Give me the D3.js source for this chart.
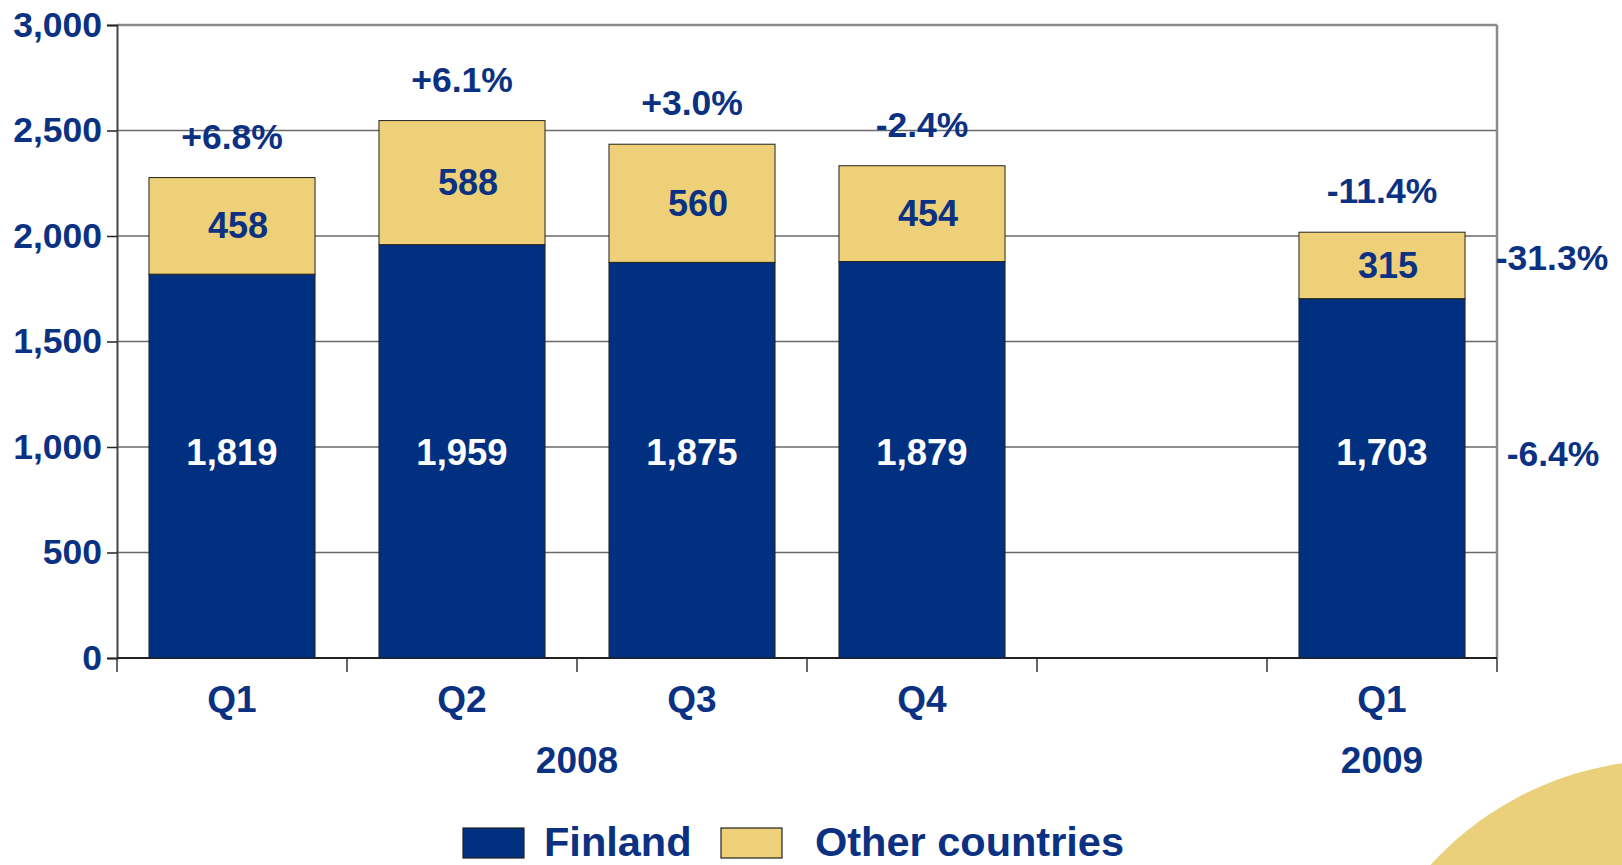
<!DOCTYPE html>
<html><head><meta charset="utf-8">
<script src="https://cdn.jsdelivr.net/npm/d3@7"></script>
<style>
html,body{margin:0;padding:0;background:#fff;}
svg{display:block;font-family:"Liberation Sans",Arial,sans-serif;font-weight:bold;}
</style></head>
<body>
<svg id="chart" width="1622" height="865"></svg>
<script>
// ---- data ----
const categories = ["2008 Q1","2008 Q2","2008 Q3","2008 Q4","gap","2009 Q1"];
const quarterLabels = ["Q1","Q2","Q3","Q4","","Q1"];
const years = [{label:"2008", from:"2008 Q1", to:"gap"},{label:"2009", from:"2009 Q1", to:"2009 Q1"}];
const finland = [1819,1959,1875,1879,null,1703];
const otherCountries = [458,588,560,454,null,315];
const growthTotal = ["+6.8%","+6.1%","+3.0%","-2.4%","","-11.4%"];
const yoyOther = "-31.3%";
const yoyFinland = "-6.4%";
const yTicks = [0,500,1000,1500,2000,2500,3000];
const seriesNames = ["Finland","Other countries"];

// ---- style ----
const BLUE = "#00307f", GOLD = "#edd077", TEXT = "#0a3182";
const svg = d3.select("#chart");
const m = {left:117, right:1497, top:25, bottom:658};

// decoration
svg.append("circle").attr("cx",1668).attr("cy",1081).attr("r",321).attr("fill","#ead07a");

const x = d3.scaleBand().domain(categories).range([m.left,m.right]).padding(0);
const y = d3.scaleLinear().domain([0,3000]).range([m.bottom,m.top]);
const barW = x.bandwidth()*0.722;
const bx = c => x(c) + (x.bandwidth()-barW)/2;
const finLabelY = y(975);

// gridlines
svg.append("g").selectAll("line").data(yTicks.filter(t=>t>0 && t<3000)).join("line")
  .attr("x1",m.left).attr("x2",m.right).attr("y1",d=>y(d)).attr("y2",d=>y(d))
  .attr("stroke","#6a6a6a").attr("stroke-width",1.3);
// plot border top/right
svg.append("line").attr("x1",m.left).attr("x2",m.right).attr("y1",y(3000)).attr("y2",y(3000))
  .attr("stroke","#8a8a8a").attr("stroke-width",2.5);
svg.append("line").attr("x1",m.right).attr("x2",m.right).attr("y1",y(3000)).attr("y2",m.bottom)
  .attr("stroke","#8a8a8a").attr("stroke-width",2.5);

// y axis
const yAxis = d3.axisLeft(y).tickValues(yTicks).tickFormat(d3.format(",")).tickSize(10).tickPadding(5);
const gy = svg.append("g").attr("transform",`translate(${m.left},0)`).call(yAxis);
gy.select(".domain").attr("stroke","#444").attr("stroke-width",2);
gy.selectAll(".tick line").attr("stroke","#222").attr("stroke-width",1.5);
gy.selectAll(".tick text").attr("fill",TEXT).attr("font-size",35.5).attr("font-family","Liberation Sans, Arial, sans-serif").attr("font-weight","bold");

// x axis (boundary ticks)
const bounds = categories.map(c=>x(c)).concat([m.right]);
svg.append("line").attr("x1",m.left).attr("x2",m.right).attr("y1",m.bottom).attr("y2",m.bottom)
  .attr("stroke","#222").attr("stroke-width",2);
svg.append("g").selectAll("line").data(bounds).join("line")
  .attr("x1",d=>d).attr("x2",d=>d).attr("y1",m.bottom).attr("y2",m.bottom+14)
  .attr("stroke","#333").attr("stroke-width",1.5);

const rows = categories.map((c,i)=>({c, f:finland[i], o:otherCountries[i], g:growthTotal[i], q:quarterLabels[i]}))
  .filter(d=>d.f!=null);

// bars
svg.append("g").selectAll("rect").data(rows).join("rect")
  .attr("x",d=>bx(d.c)).attr("width",barW)
  .attr("y",d=>y(d.f)).attr("height",d=>y(0)-y(d.f))
  .attr("fill",BLUE).attr("stroke","#222").attr("stroke-width",1);
svg.append("g").selectAll("rect").data(rows).join("rect")
  .attr("x",d=>bx(d.c)).attr("width",barW)
  .attr("y",d=>y(d.f+d.o)).attr("height",d=>y(d.f)-y(d.f+d.o))
  .attr("fill",GOLD).attr("stroke","#222").attr("stroke-width",1);

const fmt = d3.format(",");
// value labels
svg.append("g").selectAll("text").data(rows).join("text")
  .attr("x",d=>x(d.c)+x.bandwidth()/2).attr("y",finLabelY)
  .attr("text-anchor","middle").attr("dominant-baseline","central")
  .attr("fill","#fff").attr("font-size",36.5).text(d=>fmt(d.f));
svg.append("g").selectAll("text").data(rows).join("text")
  .attr("x",d=>x(d.c)+x.bandwidth()/2+6).attr("y",d=>y(d.f+d.o/2))
  .attr("text-anchor","middle").attr("dominant-baseline","central")
  .attr("fill",TEXT).attr("font-size",36).text(d=>fmt(d.o));
// growth labels
svg.append("g").selectAll("text").data(rows).join("text")
  .attr("x",d=>x(d.c)+x.bandwidth()/2).attr("y",d=>y(d.f+d.o)-41)
  .attr("text-anchor","middle").attr("dominant-baseline","central")
  .attr("fill",TEXT).attr("font-size",35.5).text(d=>d.g);
// right side yoy labels
const last = rows[rows.length-1];
svg.append("text").attr("x",m.right+55).attr("y",y(last.f+last.o/2)-7)
  .attr("text-anchor","middle").attr("dominant-baseline","central")
  .attr("fill",TEXT).attr("font-size",35.5).text(yoyOther);
svg.append("text").attr("x",m.right+56).attr("y",finLabelY+2)
  .attr("text-anchor","middle").attr("dominant-baseline","central")
  .attr("fill",TEXT).attr("font-size",35.5).text(yoyFinland);

// category labels
svg.append("g").selectAll("text").data(rows).join("text")
  .attr("x",d=>x(d.c)+x.bandwidth()/2).attr("y",712)
  .attr("text-anchor","middle").attr("fill",TEXT).attr("font-size",37).text(d=>d.q);
svg.append("g").selectAll("text").data(years).join("text")
  .attr("x",d=>(x(d.from)+x(d.to))/2 + (d.from===d.to ? x.bandwidth()/2 : 0)).attr("y",773)
  .attr("text-anchor","middle").attr("fill",TEXT).attr("font-size",37).text(d=>d.label);

// legend
const lg = svg.append("g");
const legendItems = [{name:seriesNames[0],fill:BLUE,sx:463,tx:544},{name:seriesNames[1],fill:GOLD,sx:721,tx:815}];
lg.selectAll("rect").data(legendItems).join("rect")
  .attr("x",d=>d.sx).attr("y",828).attr("width",61).attr("height",30)
  .attr("fill",d=>d.fill).attr("stroke","#222").attr("stroke-width",1.2);
lg.selectAll("text").data(legendItems).join("text")
  .attr("x",d=>d.tx).attr("y",855.5)
  .attr("fill",TEXT).attr("font-size",41.5).text(d=>d.name);
</script>
</body></html>
